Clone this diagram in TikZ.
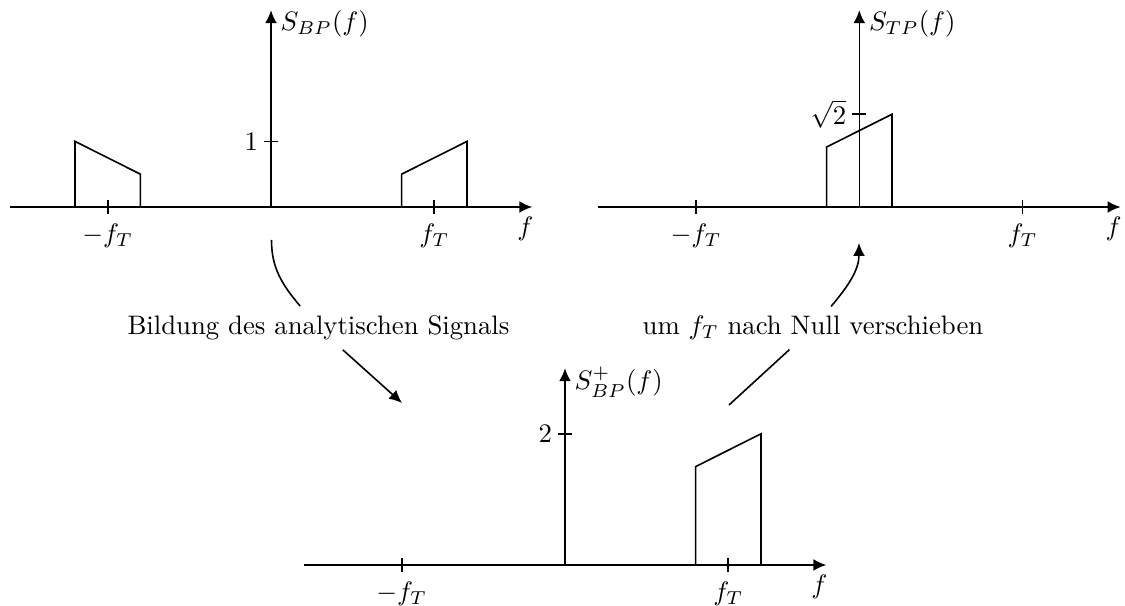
\documentclass[tikz,border=0pt]{standalone}
\usetikzlibrary{arrows.meta}
\begin{document}
\begin{tikzpicture}[x=0.374pt,y=0.374pt,line width=0.6pt,
  axis/.style={-{Latex[length=4.8pt,width=4.4pt]}},
  conn/.style={-{Latex[length=4.8pt,width=4.4pt]}},
  ylab/.style={anchor=west,yshift=-5.2pt},
  xlab/.style={below},
  flab/.style={below,xshift=-2.6pt},
  vlab/.style={left,inner sep=2pt},
  txt/.style={inner sep=3.33pt}]
\useasboundingbox (0,0) rectangle (1125,606);

% ---------- top left: S_BP ----------
\begin{scope}[shift={(271,399)},x=61.07pt,y=24.53pt]
  \coordinate (A0) at (0,0);
  \coordinate (Axl) at (-1.6,0);
  \coordinate (Axr) at (1.6,0);
  \coordinate (Ayt) at (0,3);
  \draw[axis] (Axl) -- (Axr);
  \draw[axis] (A0) -- (Ayt);
  \coordinate (Atm) at (-1,0);
  \coordinate (Atp) at (1,0);
  \coordinate (At1) at (0,1);
  \draw ([yshift=2.6pt]Atm) -- ([yshift=-2.6pt]Atm);
  \draw ([yshift=2.6pt]Atp) -- ([yshift=-2.6pt]Atp);
  \draw ([xshift=-2.6pt]At1) -- ([xshift=2.6pt]At1);
  \node[xlab] (Almf) at ([yshift=-2.6pt]Atm) {$-f_T$};
  \node[xlab] (Alpf) at ([yshift=-2.6pt]Atp) {$f_T$};
  \node[flab] (Alf) at (Axr) {$f$};
  \node[vlab] (Al1) at ([xshift=-2.6pt]At1) {$1$};
  \node[ylab] (AlS) at (Ayt) {$S_{BP}(f)$};
  \draw (-1.2,0) -- (-1.2,1) -- (-0.8,0.5) -- (-0.8,0);
  \draw (0.8,0) -- (0.8,0.5) -- (1.2,1) -- (1.2,0);
\end{scope}

% ---------- top right: S_TP ----------
\begin{scope}[shift={(859.3,399)},x=61.07pt,y=24.53pt]
  \coordinate (B0) at (0,0);
  \coordinate (Bxl) at (-1.6,0);
  \coordinate (Bxr) at (1.6,0);
  \coordinate (Byt) at (0,3);
  \draw[axis] (Bxl) -- (Bxr);
  \draw[axis] (B0) -- (Byt);
  \coordinate (Btm) at (-1,0);
  \coordinate (Btp) at (1,0);
  \coordinate (Bt1) at (0,1.414);
  \draw ([yshift=2.6pt]Btm) -- ([yshift=-2.6pt]Btm);
  \draw ([yshift=2.6pt]Btp) -- ([yshift=-2.6pt]Btp);
  \draw ([xshift=-2.6pt]Bt1) -- ([xshift=2.6pt]Bt1);
  \node[xlab] (Blmf) at ([yshift=-2.6pt]Btm) {$-f_T$};
  \node[xlab] (Blpf) at ([yshift=-2.6pt]Btp) {$f_T$};
  \node[flab] (Blf) at (Bxr) {$f$};
  \node[vlab] (Bl1) at ([xshift=-2.6pt]Bt1) {$\sqrt{2}$};
  \node[ylab] (BlS) at (Byt) {$S_{TP}(f)$};
  \draw (-0.2,0) -- (-0.2,0.915) -- (0.2,1.414) -- (0.2,0);
\end{scope}

% ---------- bottom: S_BP^+ ----------
\begin{scope}[shift={(565,41)},x=61.07pt,y=24.53pt]
  \coordinate (C0) at (0,0);
  \coordinate (Cxl) at (-1.6,0);
  \coordinate (Cxr) at (1.6,0);
  \coordinate (Cyt) at (0,3);
  \draw[axis] (Cxl) -- (Cxr);
  \draw[axis] (C0) -- (Cyt);
  \coordinate (Ctm) at (-1,0);
  \coordinate (Ctp) at (1,0);
  \coordinate (Ct1) at (0,2);
  \draw ([yshift=2.6pt]Ctm) -- ([yshift=-2.6pt]Ctm);
  \draw ([yshift=2.6pt]Ctp) -- ([yshift=-2.6pt]Ctp);
  \draw ([xshift=-2.6pt]Ct1) -- ([xshift=2.6pt]Ct1);
  \node[xlab] (Clmf) at ([yshift=-2.6pt]Ctm) {$-f_T$};
  \node[xlab] (Clpf) at ([yshift=-2.6pt]Ctp) {$f_T$};
  \node[flab] (Clf) at (Cxr) {$f$};
  \node[vlab] (Cl1) at ([xshift=-2.6pt]Ct1) {$2$};
  \node[ylab] (ClS) at (Cyt) {$S^{+}_{BP}(f)$};
  \draw (0.8,0) -- (0.8,1.5) -- (1.2,2) -- (1.2,0);
\end{scope}

% ---------- connectors ----------
\coordinate (a1s) at (271.5,366);
\coordinate (a1e) at (402,203);
\node[txt] (t1) at (318.5,278) {Bildung des analytischen Signals};
\draw (a1s) to[out=-90,in=130] (t1);
\draw[conn] (t1) -- (a1e);

\coordinate (a2s) at (729,201);
\coordinate (a2e) at (859,363);
\node[txt] (t2) at (813,278) {um $f_T$ nach Null verschieben};
\draw (a2s) -- (t2);
\draw[conn] (t2) to[out=50,in=-90] (a2e);
\end{tikzpicture}
\end{document}
